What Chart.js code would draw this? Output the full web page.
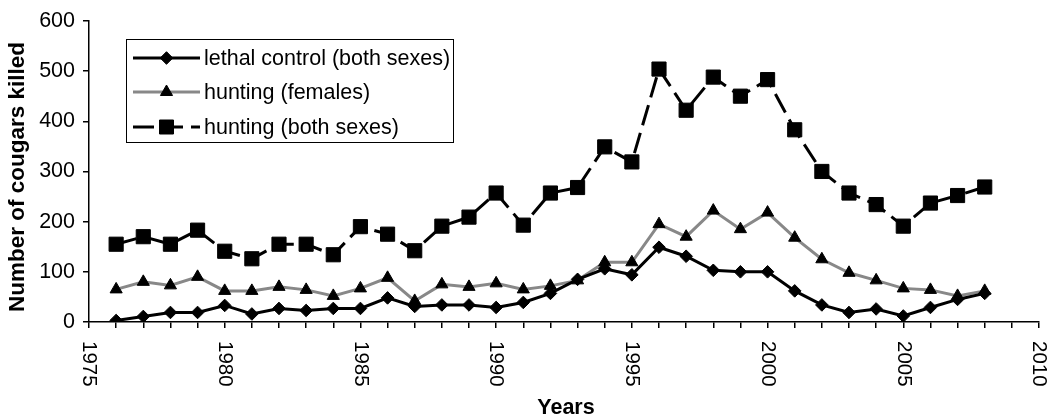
<!DOCTYPE html>
<html>
<head>
<meta charset="utf-8">
<script src="https://cdn.jsdelivr.net/npm/chart.js@4.4.1/dist/chart.umd.min.js"></script>
<style>
  html, body { margin: 0; padding: 0; background: #fff; }
  #wrap { width: 1050px; height: 419px; position: relative; }
</style>
</head>
<body>
<div id="wrap"><canvas id="c" width="1050" height="419"></canvas></div>
<script>
const years = [1976,1977,1978,1979,1980,1981,1982,1983,1984,1985,1986,1987,1988,1989,1990,1991,1992,1993,1994,1995,1996,1997,1998,1999,2000,2001,2002,2003,2004,2005,2006,2007,2008];
const lethalControl = [3,11,19,19,33,16,27,23,27,27,48,31,34,34,29,39,57,85,106,94,149,131,103,100,100,62,34,19,26,12,29,45,57];
const huntingFemales = [65,80,73,90,62,62,70,64,52,67,88,42,75,70,77,65,72,83,119,119,195,170,222,185,218,168,125,98,83,67,64,52,62];
const huntingBoth = [155,170,155,183,141,126,155,155,134,190,175,142,191,209,257,193,257,268,349,319,504,422,488,450,483,383,300,257,234,191,237,252,269];
const seriesNames = ["lethal control (both sexes)", "hunting (females)", "hunting (both sexes)"];
const xTickLabels = ["1975","1980","1985","1990","1995","2000","2005","2010"];
const yTickValues = [0,100,200,300,400,500,600];
const xTitle = "Years";
const yTitle = "Number of cougars killed";

const FONT = "'Liberation Sans', Arial, sans-serif";
const GRAY = "#888888";
const DASH = [21, 8];

function toPts(arr) { return arr.map((v, i) => ({ x: years[i], y: v })); }

function drawMarker(ctx, style, x, y) {
  ctx.save();
  ctx.fillStyle = "#000";
  ctx.strokeStyle = "#000";
  ctx.lineWidth = 1;
  ctx.setLineDash([]);
  ctx.beginPath();
  if (style === "diamond") {
    const r = 6.3;
    ctx.moveTo(x - r, y); ctx.lineTo(x, y - r); ctx.lineTo(x + r, y); ctx.lineTo(x, y + r);
  } else if (style === "triangle") {
    const r = 7;
    ctx.moveTo(x, y - r);
    ctx.lineTo(x + r * Math.cos(Math.PI / 6), y + r / 2);
    ctx.lineTo(x - r * Math.cos(Math.PI / 6), y + r / 2);
  } else {
    const s = 7;
    ctx.rect(x - s, y - s, 2 * s, 2 * s);
  }
  ctx.closePath();
  ctx.fill();
  ctx.stroke();
  ctx.restore();
}

const customDraw = {
  id: "customDraw",
  afterDraw(chart) {
    const ctx = chart.ctx;
    const xs = chart.scales.x;
    const area = chart.chartArea;
    ctx.save();
    // x tick labels rotated clockwise
    ctx.fillStyle = "#000";
    ctx.font = "20.5px " + FONT;
    ctx.textAlign = "left";
    ctx.textBaseline = "middle";
    xTickLabels.forEach(lbl => {
      const px = xs.getPixelForValue(Number(lbl));
      ctx.save();
      ctx.translate(px, area.bottom + 19);
      ctx.rotate(Math.PI / 2);
      ctx.fillText(lbl, 0, 0);
      ctx.restore();
    });
    // axis titles
    ctx.font = "bold 21.5px " + FONT;
    ctx.textAlign = "center";
    ctx.textBaseline = "alphabetic";
    ctx.fillText(xTitle, (area.left + area.right) / 2 + 2, 414);
    ctx.save();
    ctx.font = "bold 22.5px " + FONT;
    ctx.translate(24, 177);
    ctx.rotate(-Math.PI / 2);
    ctx.fillText(yTitle, 0, 0);
    ctx.restore();

    // legend
    const lx = 126, ly = 39, lw = 327, lh = 103;
    ctx.fillStyle = "#fff";
    ctx.fillRect(lx, ly, lw, lh);
    ctx.strokeStyle = "#000";
    ctx.lineWidth = 1;
    ctx.strokeRect(lx + 0.5, ly + 0.5, lw, lh);
    const rows = [58, 92, 127];
    const styles = [
      { color: "#000", width: 3, dash: [], marker: "diamond" },
      { color: GRAY, width: 3, dash: [], marker: "triangle" },
      { color: "#000", width: 3, dash: DASH, marker: "square" }
    ];
    rows.forEach((ry, i) => {
      const st = styles[i];
      ctx.save();
      ctx.strokeStyle = st.color;
      ctx.lineWidth = st.width;
      ctx.setLineDash(st.dash);
      ctx.beginPath();
      ctx.moveTo(133, ry);
      ctx.lineTo(200, ry);
      ctx.stroke();
      ctx.restore();
      drawMarker(ctx, st.marker, 166.5, ry);
      ctx.fillStyle = "#000";
      ctx.font = "21.5px " + FONT;
      ctx.textAlign = "left";
      ctx.textBaseline = "middle";
      ctx.fillText(seriesNames[i], 204, ry + 1);
    });
    ctx.restore();
  }
};

new Chart(document.getElementById("c"), {
  type: "line",
  data: {
    datasets: [
      {
        label: seriesNames[0],
        data: toPts(lethalControl),
        borderColor: "#000",
        backgroundColor: "#000",
        borderWidth: 3,
        pointStyle: "rectRot",
        pointRadius: 6.3,
        pointBorderWidth: 1,
        pointBackgroundColor: "#000",
        pointBorderColor: "#000",
        tension: 0,
        fill: false
      },
      {
        label: seriesNames[1],
        data: toPts(huntingFemales),
        borderColor: GRAY,
        backgroundColor: "#000",
        borderWidth: 3,
        pointStyle: "triangle",
        pointRadius: 7,
        pointBorderWidth: 1,
        pointBackgroundColor: "#000",
        pointBorderColor: "#000",
        tension: 0,
        fill: false
      },
      {
        label: seriesNames[2],
        data: toPts(huntingBoth),
        borderColor: "#000",
        backgroundColor: "#000",
        borderWidth: 3,
        borderDash: DASH,
        pointStyle: "rect",
        pointRadius: 10,
        pointBorderWidth: 1,
        pointBackgroundColor: "#000",
        pointBorderColor: "#000",
        tension: 0,
        fill: false
      }
    ]
  },
  options: {
    responsive: false,
    animation: false,
    devicePixelRatio: 1,
    layout: { padding: { left: 0, top: 18, right: 8, bottom: 0 } },
    plugins: { legend: { display: false }, tooltip: { enabled: false }, title: { display: false } },
    scales: {
      x: {
        type: "linear",
        min: 1975,
        max: 2010,
        ticks: { display: false, stepSize: 1 },
        grid: { display: true, drawOnChartArea: false, drawTicks: true, tickLength: 6, color: "#000", tickColor: "#000", lineWidth: 1.5 },
        border: { display: true, color: "#000", width: 1.5 },
        afterFit(scale) { scale.height = 97; }
      },
      y: {
        min: 0,
        max: 600,
        afterBuildTicks(scale) { scale.ticks = yTickValues.map(v => ({ value: v })); },
        ticks: { color: "#000", font: { family: FONT, size: 21.5 }, padding: 8 },
        grid: { display: true, drawOnChartArea: false, drawTicks: true, tickLength: 6, color: "#000", tickColor: "#000", lineWidth: 1.5 },
        border: { display: true, color: "#000", width: 1.5 },
        afterFit(scale) { scale.width = 89; }
      }
    }
  },
  plugins: [customDraw]
});
</script>
</body>
</html>
